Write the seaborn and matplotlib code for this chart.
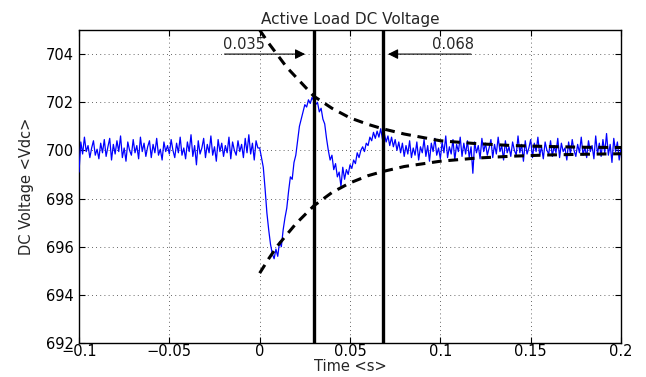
import numpy as np
import pandas as pd
import matplotlib
matplotlib.use("Agg")
import matplotlib.pyplot as plt
import seaborn as sns

# ---- data ----
t_start_ms = -100
t_stop_ms = 200

voltage = [
    699.10, 700.35, 699.85, 700.55, 699.95, 700.20, 699.70, 700.10, 700.40, 699.80,
    700.05, 699.65, 700.30, 699.90, 700.45, 699.75, 700.15, 700.50, 699.60, 700.25,
    699.85, 700.40, 699.95, 700.60, 699.70, 700.10, 699.55, 700.35, 700.00, 699.80,
    700.45, 699.90, 700.20, 699.65, 700.55, 699.95, 700.30, 699.75, 700.15, 700.40,
    699.70, 700.25, 699.90, 700.50, 699.80, 700.05, 699.60, 700.35, 699.95, 700.20,
    699.85, 700.45, 700.00, 699.70, 700.30, 699.90, 700.55, 699.80, 700.10, 699.65,
    700.35, 699.95, 700.65, 699.75, 700.20, 699.40, 700.40, 699.85, 700.10, 700.50,
    699.70, 700.25, 699.90, 700.60, 699.80, 700.15, 699.55, 700.45, 699.95, 700.30,
    699.75, 700.20, 699.90, 700.55, 699.65, 700.35, 700.00, 699.80, 700.40, 699.95,
    700.25, 699.70, 700.50, 699.90, 700.65, 699.85, 700.30, 699.60, 700.40, 700.10,
    # transient 0.000 .. 0.090
    700.10, 699.70, 699.30, 698.40, 697.40, 696.70, 696.10, 695.70, 695.50, 695.90,
    695.60, 696.20, 696.00, 696.70, 697.20, 697.60, 698.30, 698.90, 698.80, 699.50,
    699.80, 700.40, 701.00, 701.30, 701.60, 701.90, 701.80, 702.10, 701.95, 702.20,
    702.05, 701.90, 702.00, 701.60, 701.75, 701.30, 701.10, 700.50, 700.00, 699.60,
    699.80, 699.20, 699.45, 698.90, 699.10, 698.50, 699.30, 698.80, 699.20, 699.00,
    699.40, 699.25, 699.60, 699.45, 699.90, 699.70, 700.00, 700.15, 699.95, 700.30,
    700.20, 700.55, 700.40, 700.75, 700.50, 700.80, 700.55, 700.90, 700.45, 700.70,
    700.35, 700.60, 700.20, 700.55, 700.15, 700.45, 700.00, 700.35, 699.90, 700.30,
    699.75, 700.20, 699.85, 700.40, 699.70, 700.10, 699.80, 700.35, 699.60, 700.15,
    699.90,
    # 0.091 .. 0.200
    700.45, 699.75, 700.20, 699.55, 700.30, 699.95, 700.50, 699.80, 700.10, 699.65,
    700.35, 699.90, 700.60, 699.70, 700.15, 699.85, 700.45, 699.60, 700.25, 699.95,
    700.55, 699.75, 700.30, 699.85, 700.40, 699.70, 700.15, 699.05, 700.35, 699.90,
    700.20, 699.65, 700.50, 699.95, 700.30, 699.80, 700.10, 700.45, 699.70, 700.25,
    699.85, 700.55, 699.95, 700.20, 699.60, 700.40, 699.90, 700.15, 699.75, 700.35,
    700.00, 699.80, 700.60, 699.90, 700.25, 699.55, 700.40, 699.85, 700.10, 700.45,
    699.70, 700.30, 699.95, 700.55, 699.80, 700.15, 699.65, 700.35, 700.00, 699.85,
    700.40, 699.75, 700.20, 699.90, 700.50, 699.70, 700.30, 699.95, 700.10, 699.60,
    700.35, 699.85, 700.45, 700.00, 699.75, 700.25, 699.90, 700.55, 699.80, 700.15,
    699.70, 700.40, 699.95, 700.20, 699.65, 700.60, 699.85, 700.30, 699.75, 700.45,
    699.90, 700.70, 699.80, 700.25, 699.50, 700.50, 699.95, 700.35, 699.60, 700.10,
]

env_t = [0.0, 0.005, 0.01, 0.015, 0.02, 0.03, 0.04, 0.05, 0.06, 0.068,
         0.08, 0.1, 0.12, 0.14, 0.16, 0.18, 0.2]
env_upper = [705.0, 704.45, 703.95, 703.45, 703.05, 702.25, 701.75, 701.35, 701.08,
             700.9, 700.68, 700.4, 700.28, 700.2, 700.16, 700.13, 700.12]
env_lower = [694.9, 695.5, 696.05, 696.5, 696.95, 697.7, 698.25, 698.65, 698.95,
             699.12, 699.33, 699.55, 699.68, 699.76, 699.81, 699.84, 699.86]

marker_t = [0.030, 0.068]
marker_labels = ["0.035", "0.068"]

x_ticks = [-0.1, -0.05, 0, 0.05, 0.1, 0.15, 0.2]
x_ticklabels = ["\u22120.1", "\u22120.05", "0", "0.05", "0.1", "0.15", "0.2"]
y_ticks = [692, 694, 696, 698, 700, 702, 704]

# ---- build frames ----
time = np.arange(t_start_ms, t_stop_ms + 1) / 1000.0
sig = pd.DataFrame({"t": time, "v": voltage})
env = pd.DataFrame({"t": env_t * 2,
                    "v": env_upper + env_lower,
                    "side": ["upper"] * len(env_t) + ["lower"] * len(env_t)})

# ---- style ----
sns.set_theme(style="ticks")
plt.rcParams["font.family"] = ["DejaVu Sans"]
plt.rcParams["axes.unicode_minus"] = True

fs = 10.5

fig = plt.figure(figsize=(6.46, 3.77), dpi=100)
ax = fig.add_axes([0.1223, 0.0902, 0.9613 - 0.1223, 0.9204 - 0.0902])

sns.lineplot(data=sig, x="t", y="v", ax=ax, color="#0000ff", linewidth=0.9,
             estimator=None, sort=False, zorder=3)
for side in ["upper", "lower"]:
    sub = env[env["side"] == side]
    sns.lineplot(data=sub, x="t", y="v", ax=ax, color="black", linewidth=2.2,
                 estimator=None, sort=False, zorder=4, dashes=False)
for ln in ax.lines[1:]:
    ln.set_dashes((3.2, 2.2))

for mt in marker_t:
    ax.axvline(mt, color="black", linewidth=2.4, zorder=5)

# annotations
ax.annotate("", xy=(0.0267, 704.0), xytext=(-0.021, 704.0),
            arrowprops=dict(arrowstyle="-|>", color="black", lw=0.8,
                            mutation_scale=15), zorder=6)
ax.text(-0.0205, 704.08, marker_labels[0], fontsize=fs, ha="left", va="bottom")
ax.annotate("", xy=(0.0695, 704.0), xytext=(0.1185, 704.0),
            arrowprops=dict(arrowstyle="-|>", color="black", lw=0.8,
                            mutation_scale=15), zorder=6)
ax.text(0.1185, 704.08, marker_labels[1], fontsize=fs, ha="right", va="bottom")

ax.set_xlim(-0.1, 0.2)
ax.set_ylim(692, 705)
ax.set_xticks(x_ticks)
ax.set_xticklabels(x_ticklabels)
ax.set_yticks(y_ticks)
ax.grid(True, color="black", linestyle=(0, (1, 4)), linewidth=0.6, alpha=0.8)
ax.tick_params(direction="in", length=4, width=0.8, top=True, right=True,
               labelsize=fs, colors="black")
ax.tick_params(axis="x", pad=1)
ax.tick_params(axis="y", pad=4)
for s in ax.spines.values():
    s.set_visible(True)
    s.set_color("black")
    s.set_linewidth(1.0)

ax.set_title("Active Load DC Voltage", fontsize=11, pad=4)
ax.set_xlabel("Time <s>", fontsize=fs, labelpad=0)
ax.set_ylabel("DC Voltage <Vdc>", fontsize=fs, labelpad=8)

fig.savefig("out.png", dpi=100)
